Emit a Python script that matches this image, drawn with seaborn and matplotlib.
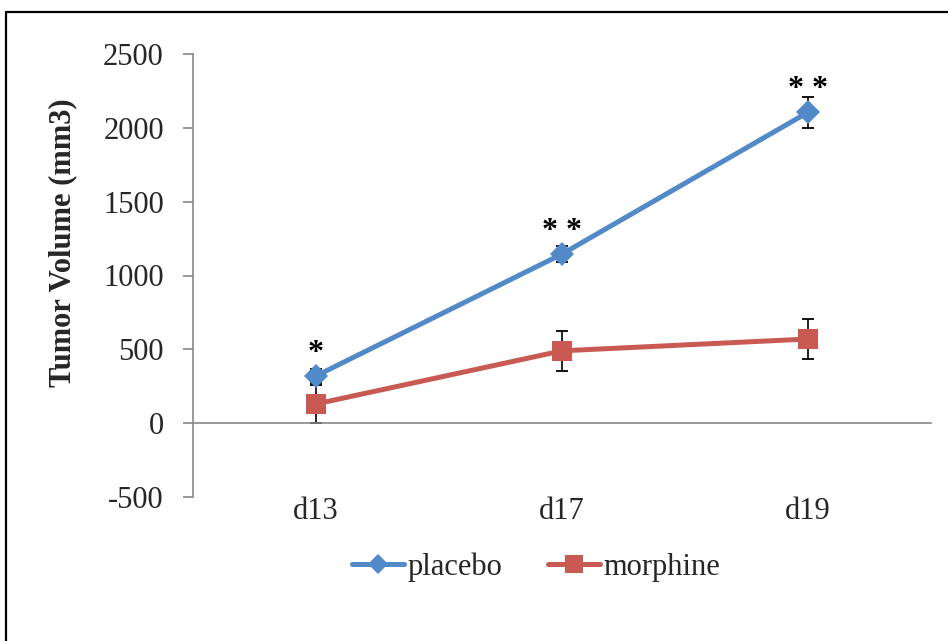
import matplotlib
matplotlib.use("Agg")
import matplotlib.pyplot as plt
from matplotlib.lines import Line2D
import seaborn as sns
import numpy as np
import pandas as pd

categories = ["d13", "d17", "d19"]
placebo = [320, 1145, 2105]
placebo_err = [50, 55, 105]
morphine = [130, 490, 570]
morphine_err = [130, 135, 135]
signif = ["*", "* *", "* *"]
yticks = [-500, 0, 500, 1000, 1500, 2000, 2500]

sns.set_style("white")
plt.rcParams["font.family"] = ["Liberation Serif", "DejaVu Serif"]

fig = plt.figure(figsize=(9.48, 6.41), dpi=100)
ax = fig.add_axes([193 / 948, 1 - 497 / 641, 738 / 948, 443 / 641])

xpos = np.arange(len(categories))
series = [
    ("placebo", placebo, placebo_err, "#5289C8", "D", 12),
    ("morphine", morphine, morphine_err, "#C95A53", "s", 14.5),
]
handles = []
for name, vals, errs, col, mk, ms in series:
    df = pd.DataFrame({"x": xpos, "y": vals})
    sns.lineplot(data=df, x="x", y="y", color=col, marker=mk, markersize=ms,
                 markeredgewidth=0, linewidth=3.6, ax=ax, zorder=3, label=name)
    ax.errorbar(xpos, vals, yerr=errs, fmt="none", ecolor="black",
                elinewidth=1.2, capsize=4.5, capthick=1.3, zorder=2)
    handles.append(Line2D([], [], color=col, marker=mk, markersize=ms * 0.85,
                          markeredgewidth=0, linewidth=3.6))

for x, v, e, s in zip(xpos, placebo, placebo_err, signif):
    ax.annotate(s, (x, v), xytext=(0, 11), textcoords="offset points",
                ha="center", va="baseline", fontsize=23, fontweight="bold",
                color="black")

if ax.get_legend():
    ax.get_legend().remove()

ax.set_xlim(-0.5, len(categories) - 0.5)
ax.set_ylim(-500, 2500)
ax.set_yticks(yticks)
ax.set_yticklabels([str(t) for t in yticks])

spine_col = "#878787"
for side in ["top", "right"]:
    ax.spines[side].set_visible(False)
for side in ["left", "bottom"]:
    ax.spines[side].set_color(spine_col)
    ax.spines[side].set_linewidth(1.2)
ax.spines["bottom"].set_position(("data", 0))

ax.set_xticks(np.arange(len(categories) + 1) - 0.5)
ax.set_xticklabels([""] * (len(categories) + 1))
ax.set_xticks(xpos, minor=True)
ax.set_xticklabels(categories, minor=True)
ax.tick_params(axis="x", which="major", direction="out", length=7, width=1.2,
               color=spine_col)
ax.tick_params(axis="x", which="minor", length=0, pad=53, labelsize=22)
ax.tick_params(axis="y", direction="out", length=7, width=1.2, color=spine_col,
               pad=14, labelsize=22, left=True)
ax.set_xlabel("")
ax.set_ylabel("Tumor Volume (mm3)", fontsize=22, fontweight="bold")
ax.yaxis.set_label_coords(-0.157, 0.575)
ax.grid(False)

fig.legend(handles, ["placebo", "morphine"], loc="center",
           bbox_to_anchor=(536 / 948, 1 - 567 / 641), ncol=2, frameon=False,
           fontsize=22, handlelength=1.7, handletextpad=0.1, columnspacing=1.5)

# outer chart frame (top and left edges visible)
fig.add_artist(Line2D([6 / 948, 1.0], [1 - 12 / 641, 1 - 12 / 641],
                      transform=fig.transFigure, color="black", linewidth=1.6))
fig.add_artist(Line2D([6 / 948, 6 / 948], [0, 1 - 12 / 641],
                      transform=fig.transFigure, color="black", linewidth=1.6))

fig.savefig("out.png", dpi=100)
